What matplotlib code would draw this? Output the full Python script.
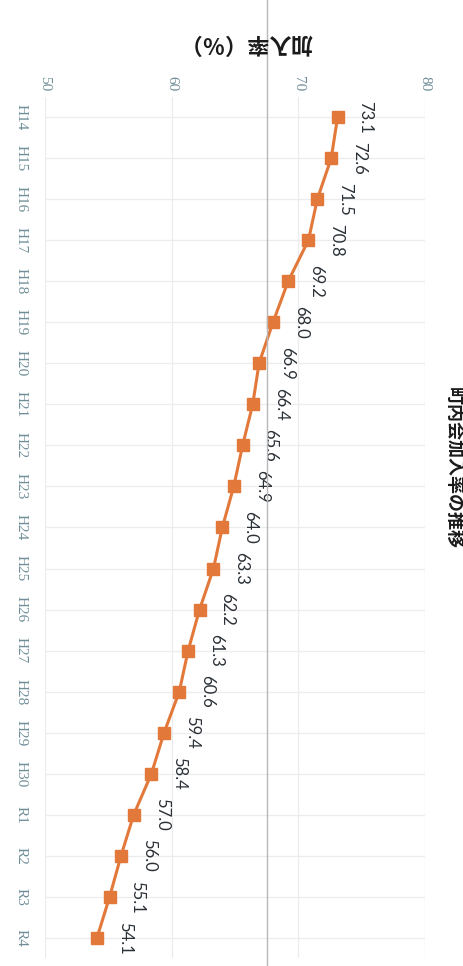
import matplotlib.pyplot as plt
from matplotlib.lines import Line2D

plt.rcParams['font.family'] = ['Noto Sans CJK JP', 'DejaVu Sans']

# 町内会加入率の推移 (page scanned sideways, so the chart is drawn rotated)
years = ["H14", "H15", "H16", "H17", "H18", "H19", "H20", "H21", "H22", "H23",
         "H24", "H25", "H26", "H27", "H28", "H29", "H30", "R1", "R2", "R3", "R4"]
rate = [73.1, 72.6, 71.5, 70.8, 69.2, 68.0, 66.9, 66.4, 65.6, 64.9,
        64.0, 63.3, 62.2, 61.3, 60.6, 59.4, 58.4, 57.0, 56.0, 55.1, 54.1]
value_ticks = [50, 60, 70, 80]

orange = "#e2783a"
tick_col = "#6f8e98"

fig = plt.figure(figsize=(4.63, 9.66), dpi=100)
ax = fig.add_axes([0.0972, 0.0078, 0.8207, 0.8923])

pos = list(range(len(years)))
ax.plot(rate, pos, color=orange, lw=2.2, marker="s", ms=8,
        mfc=orange, mec=orange, zorder=3)

for v, p in zip(rate, pos):
    ax.annotate(f"{v:.1f}", (v, p), xytext=(28, 0), textcoords="offset pixels",
                rotation=-90, ha="center", va="center", fontsize=12,
                family="Lato", color="#2a3036")

ax.set_xlim(50, 80)
ax.set_ylim(len(years) - 0.5, -0.5)

ax.set_yticks(pos)
ax.set_yticklabels(years, rotation=-90, ha="center", va="center",
                   family="Liberation Serif", fontsize=11, color=tick_col)
ax.tick_params(axis="y", length=0, pad=17)

ax.xaxis.tick_top()
ax.set_xticks(value_ticks)
ax.set_xticklabels([str(t) for t in value_ticks], rotation=-90, ha="center",
                   va="center", family="Liberation Serif", fontsize=11,
                   color=tick_col)
ax.tick_params(axis="x", length=0, pad=9)

ax.grid(True, color="#ececec", lw=0.9)
ax.set_axisbelow(True)
for s in ax.spines.values():
    s.set_visible(False)

# axis title (upside down in the scan) and main title at the right edge
fig.text(246 / 463, 1 - 43 / 966, "加入率（％）", rotation=180, ha="center",
         va="center", fontsize=16, fontweight="bold", color="#1a1a1a")
fig.text(453 / 463, 1 - 468 / 966, "町内会加入率の推移", rotation=-90,
         ha="center", va="center", fontsize=13, fontweight="bold",
         color="#1a1a1a")

# fold line of the scan
fig.add_artist(Line2D([267 / 463, 267 / 463], [0, 1], transform=fig.transFigure,
                      color="#b8b8b8", lw=1))

fig.savefig("out.png", dpi=100)
